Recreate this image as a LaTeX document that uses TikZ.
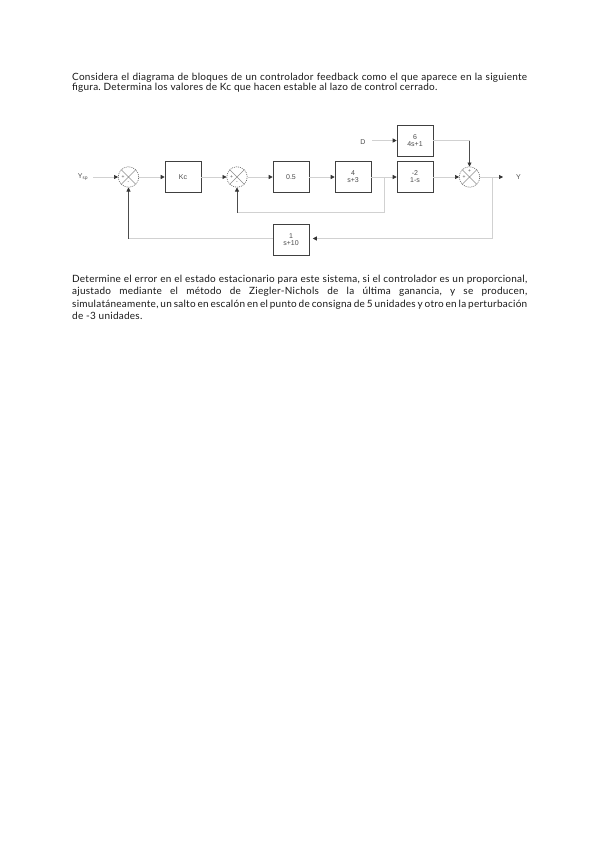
\documentclass[tikz,border=0pt]{standalone}
\usepackage{fontspec}
\setmainfont{Lato}[LetterSpace=2.5]
\newfontfamily\diagfont{Liberation Sans}
\usetikzlibrary{arrows.meta}
\frenchspacing
\begin{document}
\begin{tikzpicture}[x=1pt,y=-1pt,
  txt/.style={anchor=base west, inner sep=0pt, font=\fontsize{10}{11}\selectfont, text=black!90},
  blk/.style={draw=black!75, line width=0.6pt, minimum width=36pt, minimum height=31pt, inner sep=0pt,
    align=center, font=\diagfont\fontsize{7}{7.5}\selectfont, text=black!70},
  sumj/.style={circle, draw=black!70, line width=0.5pt, dash pattern=on 1pt off 1pt, minimum size=20.5pt, inner sep=0pt},
  lbl/.style={font=\diagfont\fontsize{7}{7.5}\selectfont, text=black!70, inner sep=0pt},
  sgn/.style={font=\diagfont\fontsize{5}{5}\selectfont, text=black!70, inner sep=0pt},
  lite/.style={draw=black!18, line width=0.6pt},
  dark/.style={draw=black!70, line width=0.6pt},
  arr/.style={-{Triangle[length=4pt,width=4pt,color=black!80]}}
]
\useasboundingbox[fill=white] (0,0) rectangle (599,848);

% ---------- text ----------
\node[txt] (p1a) at (72,80.5) {\makebox[455pt][s]{Considera el diagrama de bloques de un controlador feedback como el que aparece en la siguiente}};
\node[txt] (p1b) at (72,91) {figura. Determina los valores de Kc que hacen estable al lazo de control cerrado.};

\node[txt] (p2a) at (72,282) {\makebox[455pt][s]{Determine el error en el estado estacionario para este sistema, si el controlador es un proporcional,}};
\node[txt] (p2b) at (72,294.5) {\makebox[455pt][s]{ajustado mediante el método de Ziegler-Nichols de la última ganancia, y se producen,}};
\node[txt] (p2c) at (72,307) {\makebox[455pt][s]{simulatáneamente, un salto en escalón en el punto de consigna de 5 unidades y otro en la perturbación}};
\node[txt] (p2d) at (72,319.5) {de -3 unidades.};

% ---------- blocks ----------
\node[blk] (kc)  at (183,177) {Kc};
\node[blk] (b05) at (291,177) {0.5};
\node[blk] (b4)  at (353,177) {4\\[-0.5pt]s+3};
\node[blk] (bm2) at (415,177) {-2\\[-0.5pt]1-s};
\node[blk] (b6)  at (415,140.5) {6\\[-0.5pt]4s+1};
\node[blk] (bfb) at (291,239.5) {1\\[-0.5pt]s+10};

% ---------- summing junctions ----------
\foreach \n/\x in {s1/128.5, s2/237, s3/469.5}{
  \node[sumj] (\n) at (\x,177) {};
  \draw[draw=black!45, line width=0.4pt] (\n.45) -- (\n.225) (\n.135) -- (\n.-45);
}
\node[sgn] (s1p) at ([xshift=-5.5pt]s1.center) {+};
\node[sgn] (s1m) at ([yshift=-6pt]s1.center) {-};
\node[sgn] (s2p) at ([xshift=-5.5pt]s2.center) {+};
\node[sgn] (s2m) at ([yshift=-6pt]s2.center) {-};
\node[sgn] (s3p) at ([xshift=-5.5pt]s3.center) {+};
\node[sgn] (s3t) at ([yshift=5.5pt]s3.center) {+};

% ---------- labels ----------
\node[lbl] (ysp) at (83,177) {Y$_{\mathrm{sp}}$};
\node[lbl] (dl)  at (363,142.5) {D};
\node[lbl] (yl)  at (518.5,177) {Y};

% ---------- coordinates ----------
\coordinate (ysp0) at (93,177);
\coordinate (d0) at (372,140.5);
\coordinate (br1) at (384,177);
\coordinate (br1d) at (384,212.5);
\coordinate (s2d) at (237,212.5);
\coordinate (c6) at (469.5,140.5);
\coordinate (yout) at (503,177);
\coordinate (br2) at (492,177);
\coordinate (br2d) at (492,238.5);
\coordinate (s1d) at (128.5,238.5);

% ---------- connectors ----------
\draw[lite,arr] (ysp0) -- (s1.west);
\draw[lite,arr] (s1.east) -- (kc.west);
\draw[lite,arr] (kc.east) -- (s2.west);
\draw[lite,arr] (s2.east) -- (b05.west);
\draw[lite,arr] (b05.east) -- (b4.west);
\draw[lite,arr] (b4.east) -- (bm2.west);
\draw[lite,arr] (d0) -- (b6.west);
\draw[lite] (b6.east) -- (c6);
\draw[dark,arr] (c6) -- (s3.north);
\draw[lite,arr] (bm2.east) -- (s3.west);
\draw[lite,arr] (s3.east) -- (yout);
% inner feedback
\draw[lite] (br1) -- (br1d) -- (s2d);
\draw[dark,arr] (s2d) -- (s2.south);
% outer feedback
\draw[lite,arr,shorten >=3.5pt] (br2) -- (br2d) -- (bfb.east |- br2d);
\draw[lite] (bfb.west |- s1d) -- (s1d);
\draw[dark,arr] (s1d) -- (s1.south);
\end{tikzpicture}
\end{document}
